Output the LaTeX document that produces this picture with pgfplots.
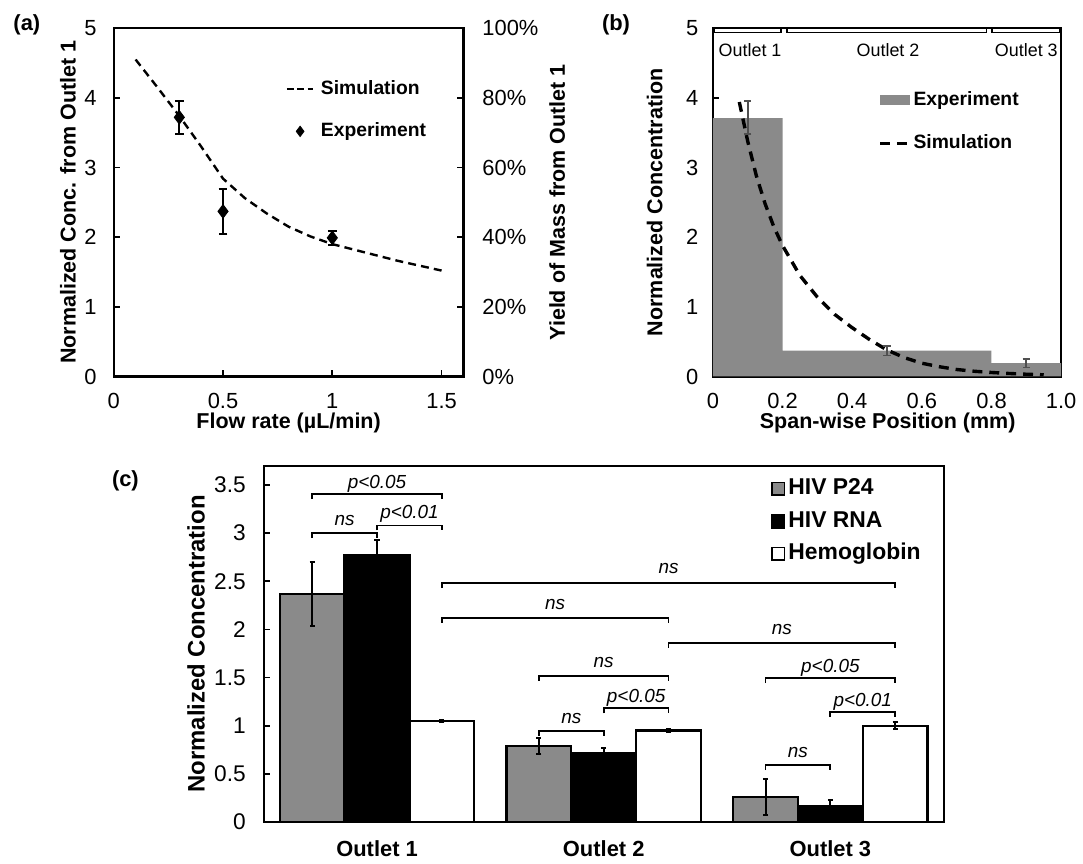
\documentclass[border=0pt]{standalone}
\usepackage{fontspec}
\setmainfont{Liberation Sans}
\usepackage{pgfplots}
\pgfplotsset{compat=1.18}
\usetikzlibrary{calc}

\definecolor{bargray}{RGB}{138,138,138}
\definecolor{errgray}{RGB}{80,80,80}

\pgfplotsset{
  panel/.style={
    scale only axis,
    clip=false,
    /pgf/number format/assume math mode=true,
    axis line style={-, line width=1.1pt},
    every tick/.style={black, line width=0.9pt},
    major tick length=3pt,
    tick align=inside,
    tick label style={font=\fontsize{11}{13}\selectfont},
    label style={font=\bfseries\fontsize{10.8}{13}\selectfont},
    legend cell align=left,
  },
  leg sim a/.style={legend image code/.code={\draw[##1, dash pattern=on 3.6pt off 1.6pt] (0pt,0pt) -- (13.3pt,0pt);}},
  leg exp a/.style={legend image code/.code={\draw[##1, mark size=2.6pt] plot coordinates {(6.65pt,0pt)};}},
  leg sim b/.style={legend image code/.code={\draw[##1] (0pt,0pt) -- (14.5pt,0pt);}},
  leg exp b/.style={legend image code/.code={\fill[bargray] (0pt,-2.5pt) rectangle (15pt,2.5pt);}},
  leg box/.style={legend image code/.code={\draw[##1, line width=0.9pt] (0pt,-3.2pt) rectangle (6.5pt,3.2pt);}},
}

% significance bracket: x1, x2, y, text, lift of the text
\newcommand{\sig}[5]{%
  \draw[line width=0.9pt] ([yshift=-2.5pt]axis cs:#1,#3) -- (axis cs:#1,#3)
    -- (axis cs:#2,#3) -- ([yshift=-2.5pt]axis cs:#2,#3);
  \node[anchor=base, inner sep=0pt, yshift=#5, font=\itshape\fontsize{9.5}{11}\selectfont]
    at ($(axis cs:#1,#3)!0.5!(axis cs:#2,#3)$) {#4};
}

\begin{document}
\begin{tikzpicture}
\path (0,0) rectangle (541.5pt,430pt);

% ---------------- (a) ----------------
\begin{axis}[panel,
  at={(57.15pt,240.85pt)}, anchor=south west,
  width=175.7pt, height=175pt,
  xmin=0, xmax=1.6, ymin=0, ymax=5,
  xtick={0,0.5,1,1.5}, ytick={0,1,2,3,4,5},
  xtick pos=bottom, ytick pos=left,
  xticklabel style={yshift=-4.8pt},
  yticklabel style={xshift=-5.1pt},
  xlabel={Flow rate (µL/min)},
  ylabel={Normalized Conc. from Outlet 1},
  xlabel style={at={(axis description cs:0.5,-0.15)}, anchor=base},
  ylabel style={at={(axis description cs:-0.131,0.5)}, anchor=center},
  legend style={at={(axis description cs:0.4906,0.858)}, anchor=north west,
    draw=none, fill=none, inner sep=0pt, row sep=10pt, column sep=2.2pt,
    font=\bfseries\fontsize{9.7}{11}\selectfont,
    nodes={inner sep=1pt, text height=7.2pt, text depth=2pt}},
]
\addplot[black, line width=1.2pt, dash pattern=on 4pt off 2.6pt, leg sim a]
  coordinates {
  (0.1,4.55) (0.2,4.15) (0.3,3.74) (0.4,3.30) (0.5,2.84) (0.6,2.56)
  (0.7,2.34) (0.8,2.15) (0.9,2.01) (1.0,1.90) (1.1,1.82) (1.2,1.74)
  (1.3,1.66) (1.4,1.59) (1.5,1.52)};
\addlegendentry{Simulation}
\addplot[black, only marks, mark=diamond*, mark size=3.4pt, leg exp a,
  error bars/.cd, y dir=both, y explicit,
  error bar style={line width=1pt},
  error mark options={rotate=90, mark size=2.2pt, line width=1pt}]
  coordinates {(0.3,3.72) +- (0,0.235) (0.5,2.37) +- (0,0.325) (1.0,1.99) +- (0,0.105)};
\addlegendentry{Experiment}
\end{axis}

\begin{axis}[panel,
  at={(57.15pt,240.85pt)}, anchor=south west,
  width=175.7pt, height=175pt,
  xmin=0, xmax=1.6, ymin=0, ymax=100,
  axis x line=none, axis y line*=right,
  ytick={0,20,40,60,80,100},
  yticklabel={\pgfmathprintnumber{\tick}\%},
  yticklabel style={xshift=6pt},
  ylabel={Yield of Mass from Outlet 1},
  ylabel style={at={(axis description cs:1.268,0.5)}, anchor=center},
]
\end{axis}

% ---------------- (b) ----------------
\begin{axis}[panel,
  at={(358.15pt,240.85pt)}, anchor=south west,
  width=175pt, height=175pt,
  xmin=0, xmax=1, ymin=0, ymax=5,
  xtick={0,0.2,0.4,0.6,0.8,1}, xticklabels={0,0.2,0.4,0.6,0.8,1.0},
  ytick={0,1,2,3,4,5},
  xtick pos=bottom, ytick pos=left,
  xticklabel style={yshift=-4.8pt},
  yticklabel style={xshift=-3.8pt},
  xlabel={Span-wise Position (mm)},
  ylabel={Normalized Concentration},
  xlabel style={at={(axis description cs:0.502,-0.15)}, anchor=base},
  ylabel style={at={(axis description cs:-0.1666,0.5)}, anchor=center},
  legend style={at={(axis description cs:0.474,0.827)}, anchor=north west,
    draw=none, fill=none, inner sep=0pt, row sep=10.8pt, column sep=0.5pt,
    font=\bfseries\fontsize{9.7}{11}\selectfont,
    nodes={inner sep=1pt, text height=7.2pt, text depth=2pt}},
]
\addplot[ybar interval, fill=bargray, draw=none, leg exp b]
  coordinates {(0,3.71) (0.2,0.37) (0.8,0.19) (1.0,0.19)};
\addlegendentry{Experiment}
\addplot[black, line width=1.7pt, dash pattern=on 5pt off 3.5pt, leg sim b]
  coordinates {
  (0.076,3.94) (0.1,3.38) (0.125,2.88) (0.15,2.48) (0.175,2.15) (0.2,1.88)
  (0.25,1.45) (0.3,1.14) (0.35,0.89) (0.4,0.70) (0.45,0.53) (0.5,0.38)
  (0.55,0.27) (0.6,0.19) (0.65,0.14) (0.7,0.10) (0.75,0.075) (0.8,0.057)
  (0.85,0.043) (0.9,0.032) (0.95,0.024)};
\addlegendentry{Simulation}
\addplot[forget plot, draw=none, mark=none,
  error bars/.cd, y dir=both, y explicit,
  error bar style={line width=0.9pt, draw=errgray},
  error mark options={rotate=90, mark size=1.8pt, line width=0.9pt, draw=errgray}]
  coordinates {(0.1,3.715) +- (0,0.235) (0.5,0.37) +- (0,0.07) (0.9,0.19) +- (0,0.06)};

\draw[line width=0.8pt] (axis cs:0.003,5) -- (axis cs:0.003,4.94) -- (axis cs:0.195,4.94) -- (axis cs:0.195,5);
\draw[line width=0.8pt] (axis cs:0.213,5) -- (axis cs:0.213,4.94) -- (axis cs:0.786,4.94) -- (axis cs:0.786,5);
\draw[line width=0.8pt] (axis cs:0.802,5) -- (axis cs:0.802,4.94) -- (axis cs:0.995,4.94) -- (axis cs:0.995,5);
\node[font=\fontsize{9}{11}\selectfont, inner sep=0pt] at (axis cs:0.107,4.69) {Outlet 1};
\node[font=\fontsize{9}{11}\selectfont, inner sep=0pt] at (axis cs:0.503,4.69) {Outlet 2};
\node[font=\fontsize{9}{11}\selectfont, inner sep=0pt] at (axis cs:0.900,4.69) {Outlet 3};
\end{axis}

% ---------------- (c) ----------------
\begin{axis}[panel,
  at={(132.5pt,17pt)}, anchor=south west,
  width=341.65pt, height=179pt,
  ybar=0pt, bar width=0.286,
  xmin=-0.5, xmax=2.5, ymin=0, ymax=3.7,
  xtick={0,1,2}, xticklabels={Outlet 1,Outlet 2,Outlet 3},
  major x tick style={draw=none},
  ytick={0,0.5,1,1.5,2,2.5,3,3.5}, ytick pos=left,
  tick label style={font=\fontsize{11.4}{13}\selectfont},
  xticklabel style={font=\bfseries\fontsize{11}{13}\selectfont, yshift=-3pt},
  yticklabel style={xshift=-5.5pt},
  ylabel={Normalized Concentration},
  ylabel style={font=\bfseries\fontsize{12}{14}\selectfont,
    at={(axis description cs:-0.0995,0.5)}, anchor=center},
  legend style={at={(axis description cs:0.745,0.972)}, anchor=north west,
    draw=none, fill=none, inner sep=0pt, row sep=3.4pt, column sep=0.5pt,
    font=\bfseries\fontsize{11.5}{13}\selectfont,
    nodes={inner sep=1pt, text height=8.4pt, text depth=2.5pt}},
]
\addplot[fill=bargray, draw=black, line width=1.2pt, leg box,
  error bars/.cd, y dir=both, y explicit,
  error bar style={line width=1pt, black},
  error mark options={rotate=90, mark size=1.3pt, line width=1pt, black}]
  coordinates {(0,2.37) +- (0,0.33) (1,0.79) +- (0,0.08) (2,0.26) +- (0,0.19)};
\addlegendentry{HIV P24}
\addplot[fill=black, draw=black, line width=1.2pt, leg box,
  error bars/.cd, y dir=both, y explicit,
  error bar style={line width=1pt, black},
  error mark options={rotate=90, mark size=1.3pt, line width=1pt, black}]
  coordinates {(0,2.77) +- (0,0.16) (1,0.71) +- (0,0.06) (2,0.16) +- (0,0.07)};
\addlegendentry{HIV RNA}
\addplot[fill=white, draw=black, line width=1.2pt, leg box,
  error bars/.cd, y dir=both, y explicit,
  error bar style={line width=1pt, black},
  error mark options={rotate=90, mark size=1.3pt, line width=1pt, black}]
  coordinates {(0,1.05) +- (0,0.012) (1,0.95) +- (0,0.02) (2,1.00) +- (0,0.035)};
\addlegendentry{Hemoglobin}

\sig{-0.286}{0.286}{3.41}{p<0.05}{2.5pt}
\sig{-0.286}{0}{3.00}{ns}{3.7pt}
\sig{0}{0.286}{3.08}{p<0.01}{3.5pt}
\sig{0.286}{2.286}{2.48}{ns}{5pt}
\sig{0.286}{1.286}{2.12}{ns}{4pt}
\sig{1.286}{2.286}{1.86}{ns}{4pt}
\sig{0.714}{1.286}{1.52}{ns}{4pt}
\sig{0.714}{1}{0.945}{ns}{3.7pt}
\sig{1}{1.286}{1.18}{p<0.05}{3pt}
\sig{1.714}{2.286}{1.495}{p<0.05}{3pt}
\sig{2}{2.286}{1.14}{p<0.01}{3pt}
\sig{1.714}{2}{0.59}{ns}{3.7pt}
\end{axis}

\node[font=\bfseries\fontsize{11}{13}\selectfont] at (13.5pt,417.5pt) {(a)};
\node[font=\bfseries\fontsize{11}{13}\selectfont] at (309.5pt,417.5pt) {(b)};
\node[font=\bfseries\fontsize{11}{13}\selectfont] at (63pt,188.3pt) {(c)};
\end{tikzpicture}
\end{document}
